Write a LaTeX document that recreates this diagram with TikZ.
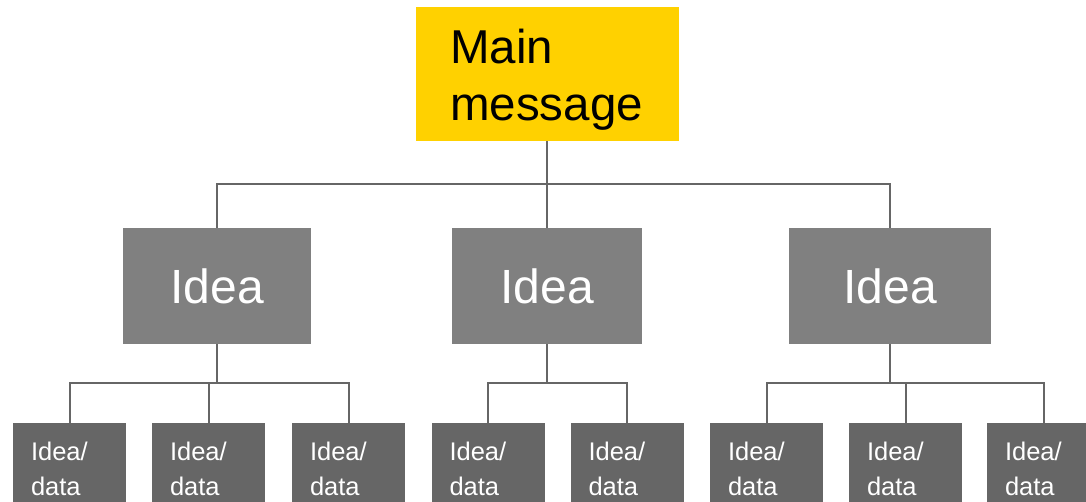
\documentclass[tikz,border=0pt]{standalone}
\usepackage{fontspec}
\setmainfont{Liberation Sans}
\definecolor{mainyellow}{HTML}{FFD100}
\definecolor{ideagray}{HTML}{808080}
\definecolor{leafgray}{HTML}{666666}
\definecolor{linegray}{HTML}{666666}
\begin{document}
\begin{tikzpicture}[x=1pt,y=-1pt,
  mainbox/.style={fill=mainyellow, minimum width=263pt, minimum height=134pt, inner sep=0pt},
  maintext/.style={anchor=north west, inner sep=0pt, align=left, text=black, font=\fontsize{47.5}{57}\selectfont},
  ideabox/.style={fill=ideagray, text=white, inner sep=0pt, minimum height=116pt, font=\fontsize{48}{58}\selectfont},
  leafbox/.style={fill=leafgray, text=white, anchor=north, inner xsep=18pt, inner ysep=18.5pt, text width=77pt, align=left, font=\fontsize{25.5}{35}\selectfont},
  conn/.style={draw=linegray, line width=2pt}]
\useasboundingbox (0,0) rectangle (1086,501);
\clip (0,0) rectangle (1086,501);
% top
\node[mainbox] (main) at (547,74) {};
\node[maintext] (maintxt) at (450,29) {Main\\message};
% ideas
\node[ideabox, minimum width=188pt] (iL) at (217,286) {Idea};
\node[ideabox, minimum width=190pt] (iM) at (547,286) {Idea};
\node[ideabox, minimum width=202pt] (iR) at (890,286) {Idea};
% leaves
\node[leafbox] (l1) at (69.5,423) {Idea/\\data};
\node[leafbox] (l2) at (208.5,423) {Idea/\\data};
\node[leafbox] (l3) at (348.5,423) {Idea/\\data};
\node[leafbox] (l4) at (488,423) {Idea/\\data};
\node[leafbox] (l5) at (627,423) {Idea/\\data};
\node[leafbox] (l6) at (766.5,423) {Idea/\\data};
\node[leafbox] (l7) at (905.5,423) {Idea/\\data};
\node[leafbox] (l8) at (1043.5,423) {Idea/\\data};
% connectors level 1
\draw[conn] (main.south) -- ++(0,43) coordinate (j0);
\draw[conn] (iL.north) |- (j0) -| (iR.north);
\draw[conn] (j0) -- (iM.north);
% connectors level 2
\draw[conn] (iL.south) -- ++(0,39) coordinate (j1);
\draw[conn] (l1.north) |- (j1) -| (l3.north);
\draw[conn] (l2.north) -- (l2.north |- j1);
\draw[conn] (iM.south) -- ++(0,39) coordinate (j2);
\draw[conn] (l4.north) |- (j2) -| (l5.north);
\draw[conn] (iR.south) -- ++(0,39) coordinate (j3);
\draw[conn] (l6.north) |- (j3) -| (l8.north);
\draw[conn] (l7.north) -- (l7.north |- j3);
\end{tikzpicture}
\end{document}
